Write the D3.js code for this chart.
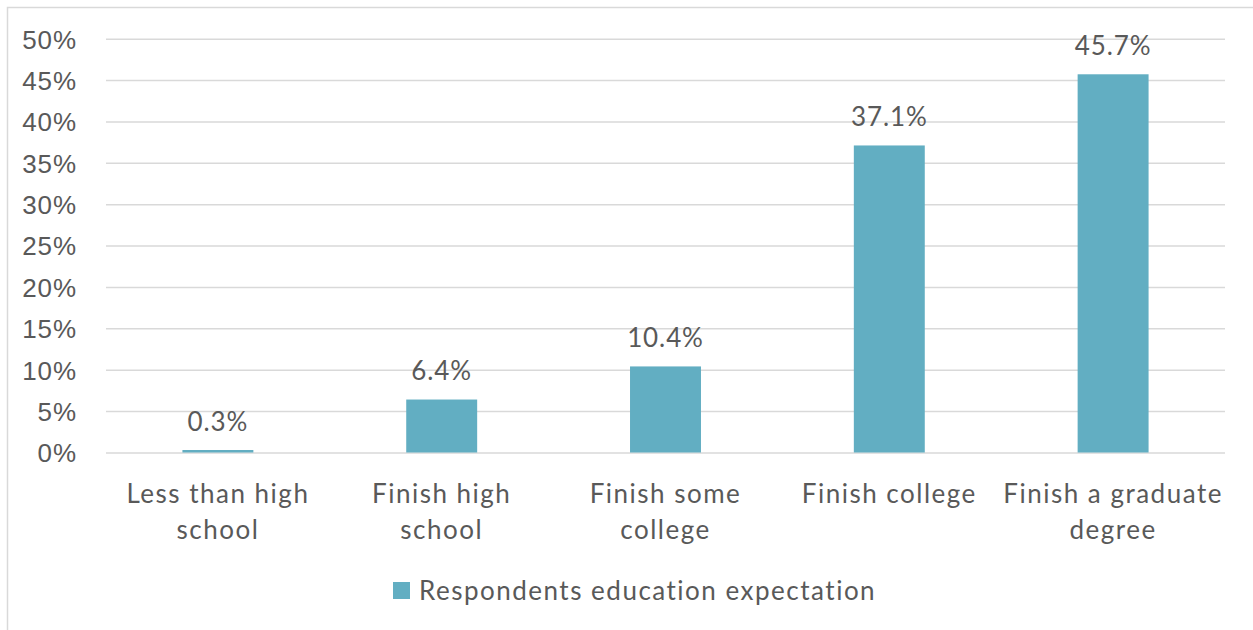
<!DOCTYPE html>
<html>
<head>
<meta charset="utf-8">
<script src="https://cdn.jsdelivr.net/npm/d3@7"></script>
<style>
  html, body { margin: 0; padding: 0; background: #fff; }
  svg { display: block; font-family: Lato, "Open Sans", sans-serif; }
</style>
</head>
<body>
<svg id="chart" width="1253" height="630"></svg>
<script>
// Education expectation of respondents (share of responses)
const categories = [
  "Less than high school",
  "Finish high school",
  "Finish some college",
  "Finish college",
  "Finish a graduate degree"
];
// Axis labels wrapped onto lines
const categoryLines = [
  ["Less than high", "school"],
  ["Finish high", "school"],
  ["Finish some", "college"],
  ["Finish college"],
  ["Finish a graduate", "degree"]
];
const values = [0.3, 6.4, 10.4, 37.1, 45.7];
const yTicks = [0, 5, 10, 15, 20, 25, 30, 35, 40, 45, 50];
const seriesName = "Respondents education expectation";

const textColor = "#595959";
const gridColor = "#d9d9d9";
const barColor = "#62aec2";
const fontSize = 26;
const wordSpacing = 1.5;   // letter-spacing for word labels
const numSpacing = 0.9;    // letter-spacing for numbers

const svg = d3.select("#chart");
const plot = { left: 106, right: 1225, top: 38.7, bottom: 452.5 };

// frame (top and left edges)
svg.append("path")
  .attr("d", "M7.5,630 V7.5 H1253")
  .attr("fill", "none")
  .attr("stroke", gridColor)
  .attr("stroke-width", 1.5);

const x = d3.scaleBand()
  .domain(categories)
  .range([plot.left, plot.right])
  .paddingInner(0)
  .paddingOuter(0);

const y = d3.scaleLinear()
  .domain([0, 50])
  .range([plot.bottom, plot.top]);

// horizontal gridlines + tick labels
const yAxis = d3.axisLeft(y)
  .tickValues(yTicks)
  .tickSize(-(plot.right - plot.left))
  .tickPadding(29)
  .tickFormat(d => d + "%");

const gy = svg.append("g")
  .attr("transform", `translate(${plot.left},0)`)
  .call(yAxis);
gy.select(".domain").remove();
gy.selectAll(".tick line")
  .attr("stroke", gridColor)
  .attr("stroke-width", 1.5);
gy.selectAll(".tick text")
  .attr("fill", textColor)
  .attr("font-size", fontSize)
  .attr("letter-spacing", numSpacing)
  .attr("dy", "0.36em");

// bars
const barW = x.bandwidth() * 0.317;
svg.append("g")
  .selectAll("rect")
  .data(values)
  .join("rect")
  .attr("x", (d, i) => x(categories[i]) + (x.bandwidth() - barW) / 2)
  .attr("y", d => y(d))
  .attr("width", barW)
  .attr("height", d => y(0) - y(d))
  .attr("fill", barColor);

// value labels
svg.append("g")
  .selectAll("text")
  .data(values)
  .join("text")
  .attr("x", (d, i) => x(categories[i]) + x.bandwidth() / 2)
  .attr("y", d => y(d) - 19.5)
  .attr("text-anchor", "middle")
  .attr("fill", textColor)
  .attr("font-size", fontSize)
  .attr("letter-spacing", numSpacing)
  .text(d => d.toFixed(1) + "%");

// category labels
const gx = svg.append("g");
categories.forEach((c, i) => {
  const t = gx.append("text")
    .attr("x", x(c) + x.bandwidth() / 2)
    .attr("y", 503)
    .attr("text-anchor", "middle")
    .attr("fill", textColor)
    .attr("font-size", fontSize)
    .attr("letter-spacing", wordSpacing);
  categoryLines[i].forEach((line, j) => {
    t.append("tspan")
      .attr("x", x(c) + x.bandwidth() / 2)
      .attr("dy", j === 0 ? 0 : 36)
      .text(line);
  });
});

// legend
const legend = svg.append("g");
legend.append("rect")
  .attr("x", 393).attr("y", 582)
  .attr("width", 17).attr("height", 17)
  .attr("fill", barColor);
legend.append("text")
  .attr("x", 419).attr("y", 600)
  .attr("fill", textColor)
  .attr("font-size", fontSize)
  .attr("letter-spacing", wordSpacing)
  .text(seriesName);
</script>
</body>
</html>
